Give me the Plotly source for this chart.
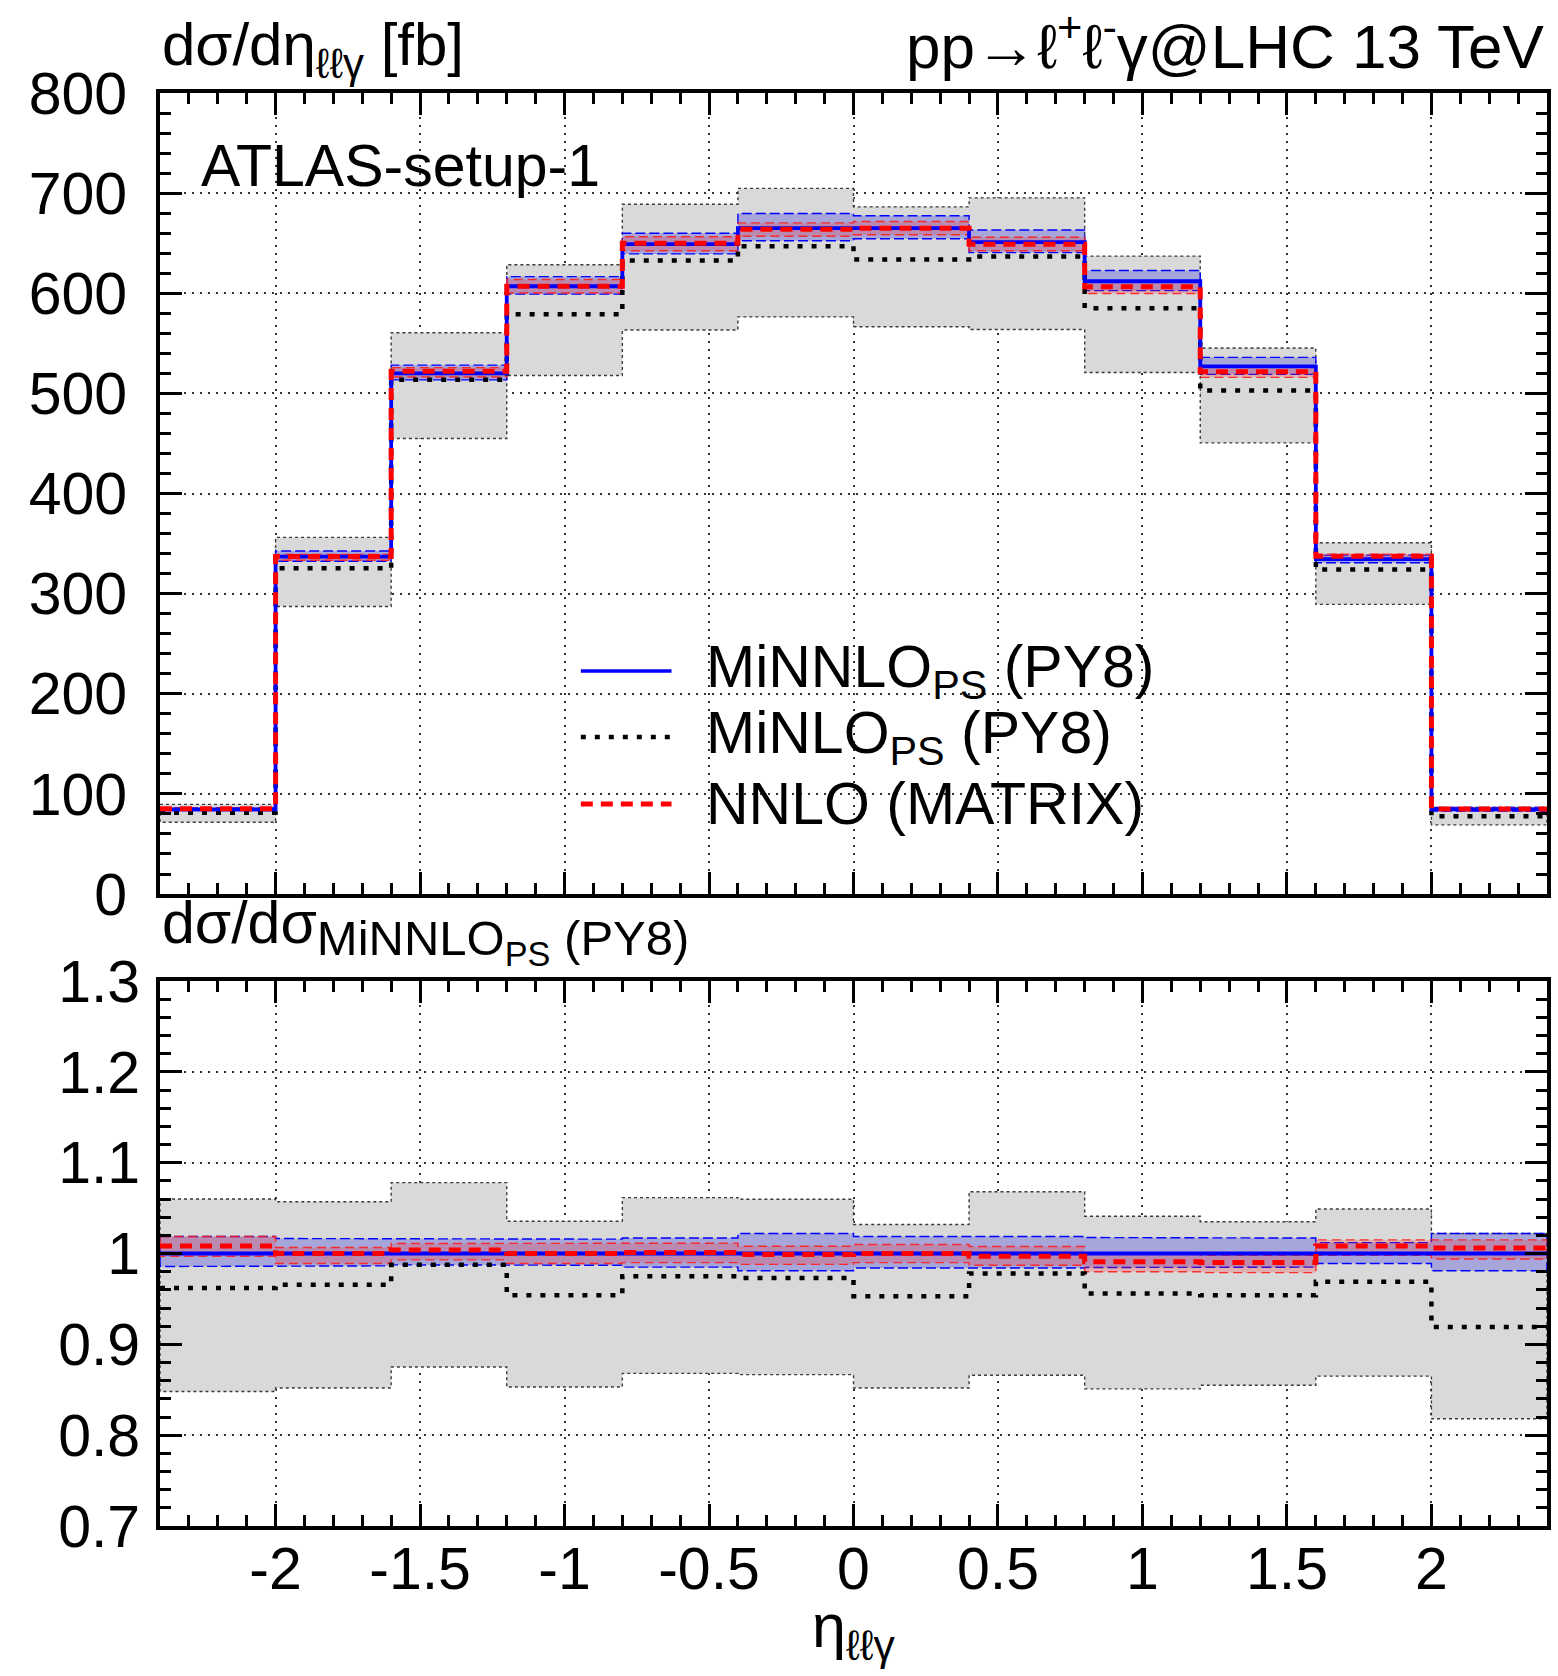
import plotly.graph_objects as go

# ---------------------------------------------------------------- data
# bin edges in eta_{ll gamma}
edges = [-2.4, -2.0, -1.6, -1.2, -0.8, -0.4, 0.0, 0.4, 0.8, 1.2, 1.6, 2.0, 2.4]

# upper panel: d sigma / d eta [fb]
minnlo    = [84.5, 337.0, 520.0, 607.0, 649.0, 665.0, 665.0, 651.0, 612.0, 527.0, 334.5, 84.5]
minnlo_hi = [86.1, 342.6, 528.2, 616.6, 660.0, 679.6, 677.4, 663.2, 622.8, 536.0, 338.5, 86.4]
minnlo_lo = [83.3, 332.4, 513.5, 599.1, 639.3, 652.4, 654.4, 640.6, 602.6, 519.0, 330.8, 82.9]

minlo     = [81.3, 325.4, 513.5, 579.0, 632.8, 647.0, 633.7, 636.7, 585.0, 502.8, 324.1, 77.7]
minlo_hi  = [89.6, 356.2, 560.6, 628.5, 688.9, 704.7, 686.3, 695.3, 637.1, 545.4, 350.9, 86.4]
minlo_lo  = [71.7, 287.1, 455.0, 517.8, 563.3, 576.4, 566.6, 563.8, 520.8, 450.6, 289.3, 69.1]

nnlo      = [85.2, 337.0, 522.0, 607.0, 650.0, 664.0, 665.0, 649.0, 606.5, 521.7, 337.3, 85.0]
nnlo_hi   = [86.1, 339.2, 525.7, 613.7, 656.4, 670.3, 671.7, 656.0, 611.4, 526.0, 339.5, 85.8]
nnlo_lo   = [84.2, 333.3, 516.4, 600.3, 642.5, 657.0, 658.4, 642.5, 599.8, 516.0, 333.8, 84.0]

# lower panel: ratio to the MiNNLO_PS central prediction
r_minnlo    = [1.0, 1.0, 1.0, 1.0, 1.0, 1.0, 1.0, 1.0, 1.0, 1.0, 1.0, 1.0]
r_minnlo_hi = [1.0187, 1.0165, 1.0158, 1.0158, 1.017, 1.022, 1.0187, 1.0187, 1.0176, 1.017, 1.012, 1.022]
r_minnlo_lo = [0.9857, 0.9864, 0.9875, 0.987, 0.985, 0.981, 0.984, 0.984, 0.9846, 0.985, 0.989, 0.981]

r_minlo     = [0.962, 0.9656, 0.9875, 0.954, 0.975, 0.973, 0.953, 0.978, 0.956, 0.954, 0.969, 0.919]
r_minlo_hi  = [1.060, 1.057, 1.078, 1.0355, 1.0615, 1.0597, 1.032, 1.068, 1.041, 1.035, 1.049, 1.022]
r_minlo_lo  = [0.848, 0.852, 0.875, 0.853, 0.868, 0.8667, 0.852, 0.866, 0.851, 0.855, 0.865, 0.818]

r_nnlo      = [1.0084, 1.0, 1.004, 1.0, 1.001, 0.999, 1.0, 0.997, 0.991, 0.990, 1.0084, 1.006]
r_nnlo_hi   = [1.0187, 1.0066, 1.011, 1.011, 1.0114, 1.008, 1.010, 1.0077, 0.999, 0.998, 1.015, 1.015]
r_nnlo_lo   = [0.997, 0.989, 0.993, 0.989, 0.990, 0.988, 0.990, 0.987, 0.980, 0.979, 0.998, 0.994]

# tick labels
x_ticks = [-2, -1.5, -1, -0.5, 0, 0.5, 1, 1.5, 2]
x_ticklabels = ["-2", "-1.5", "-1", "-0.5", "0", "0.5", "1", "1.5", "2"]
y_ticks = [0, 100, 200, 300, 400, 500, 600, 700, 800]
y_ticklabels = ["0", "100", "200", "300", "400", "500", "600", "700", "800"]
r_ticks = [0.7, 0.8, 0.9, 1.0, 1.1, 1.2, 1.3]
r_ticklabels = ["0.7", "0.8", "0.9", "1", "1.1", "1.2", "1.3"]

legend_labels = ["MiNNLO<sub>PS</sub> (PY8)", "MiNLO<sub>PS</sub> (PY8)", "NNLO (MATRIX)"]

# ---------------------------------------------------------------- style
FONT = "Liberation Sans, Arial, Helvetica, sans-serif"
BLUE = "#0000ff"
RED = "#ff0000"
GRAY_FILL = "#d9d9d9"
BLUE_FILL = "rgba(30,30,220,0.27)"
RED_FILL = "rgba(255,40,40,0.24)"
RED_DASH = "12px,8px"
BLACK_DOT = "5px,9px"


def step_xy(vals):
    """Histogram outline through the bin edges (used with line_shape='hv')."""
    return edges, list(vals) + [vals[-1]]


def band_xy(lo, hi):
    """Closed outline of a per-bin band between lo and hi."""
    xs, ys = [], []
    for i in range(len(hi)):
        xs += [edges[i], edges[i + 1]]
        ys += [hi[i], hi[i]]
    for i in reversed(range(len(lo))):
        xs += [edges[i + 1], edges[i]]
        ys += [lo[i], lo[i]]
    xs.append(xs[0])
    ys.append(ys[0])
    return xs, ys


fig = go.Figure()


def add_panel(xa, ya, c_minnlo, lo_minnlo, hi_minnlo, c_minlo, lo_minlo, hi_minlo,
              c_nnlo, lo_nnlo, hi_nnlo):
    # uncertainty bands
    for lo, hi, fill, lcol, ldash in [
        (lo_minlo, hi_minlo, GRAY_FILL, "#3a3a3a", "3px,3px"),
        (lo_minnlo, hi_minnlo, BLUE_FILL, BLUE, "10px,4px"),
        (lo_nnlo, hi_nnlo, RED_FILL, "rgba(255,30,30,0.9)", "9px,5px"),
    ]:
        bx, by = band_xy(lo, hi)
        fig.add_trace(go.Scatter(x=bx, y=by, mode="lines", fill="toself",
                                 fillcolor=fill,
                                 line=dict(color=lcol, width=1.4, dash=ldash),
                                 xaxis=xa, yaxis=ya, hoverinfo="skip",
                                 showlegend=False))
    # central predictions
    sx, sy = step_xy(c_minlo)
    fig.add_trace(go.Scatter(x=sx, y=sy, mode="lines", line_shape="hv",
                             line=dict(color="black", width=4.5, dash=BLACK_DOT),
                             xaxis=xa, yaxis=ya, showlegend=False))
    sx, sy = step_xy(c_minnlo)
    fig.add_trace(go.Scatter(x=sx, y=sy, mode="lines", line_shape="hv",
                             line=dict(color=BLUE, width=3.8),
                             xaxis=xa, yaxis=ya, showlegend=False))
    sx, sy = step_xy(c_nnlo)
    fig.add_trace(go.Scatter(x=sx, y=sy, mode="lines", line_shape="hv",
                             line=dict(color=RED, width=5, dash=RED_DASH),
                             xaxis=xa, yaxis=ya, showlegend=False))


add_panel("x", "y", minnlo, minnlo_lo, minnlo_hi, minlo, minlo_lo, minlo_hi,
          nnlo, nnlo_lo, nnlo_hi)
add_panel("x2", "y2", r_minnlo, r_minnlo_lo, r_minnlo_hi, r_minlo, r_minlo_lo,
          r_minlo_hi, r_nnlo, r_nnlo_lo, r_nnlo_hi)

# ---------------------------------------------------------------- axes
TICKFONT = dict(family=FONT, size=59, color="black")
axis_common = dict(
    showline=True, linewidth=4, linecolor="black", mirror="allticks",
    ticks="inside", ticklen=22, tickwidth=3, tickcolor="black",
    showgrid=True, gridcolor="#333333", gridwidth=1.5, griddash="2px,6px",
    zeroline=False, tickfont=TICKFONT, layer="above traces",
)

x_common = dict(axis_common, range=[-2.4, 2.4], tickmode="array",
                tickvals=x_ticks, ticktext=x_ticklabels,
                minor=dict(tickmode="linear", tick0=0, dtick=0.1, ticks="inside",
                           ticklen=11, tickwidth=3, tickcolor="black",
                           showgrid=False))

fig.update_layout(
    width=1558, height=1676,
    margin=dict(l=160, r=7, t=93, b=150),
    paper_bgcolor="white", plot_bgcolor="white",
    showlegend=False,
    font=dict(family=FONT, size=59, color="black"),
    xaxis=dict(x_common, domain=[0, 1], anchor="y", showticklabels=False),
    xaxis2=dict(x_common, domain=[0, 1], anchor="y2", showticklabels=True,
                ticklabelstandoff=-12),
    yaxis=dict(axis_common, domain=[0.441, 1.0], range=[0, 800],
               tickmode="array", tickvals=y_ticks, ticktext=y_ticklabels,
               ticklabelstandoff=17,
               minor=dict(tickmode="linear", tick0=0, dtick=20, ticks="inside",
                          ticklen=11, tickwidth=3, tickcolor="black",
                          showgrid=False)),
    yaxis2=dict(axis_common, domain=[0.0, 0.3803], range=[0.7, 1.3],
                tickmode="array", tickvals=r_ticks, ticktext=r_ticklabels,
                ticklabelstandoff=4,
                minor=dict(tickmode="linear", tick0=0.7, dtick=0.02,
                           ticks="inside", ticklen=11, tickwidth=3,
                           tickcolor="black", showgrid=False)),
)

# ---------------------------------------------------------------- texts
def text(s, x, y, size, xanchor="left", yanchor="middle"):
    fig.add_annotation(text=s, x=x, y=y, xref="paper", yref="paper",
                       xanchor=xanchor, yanchor=yanchor, showarrow=False,
                       font=dict(family=FONT, size=size, color="black"))


text("dσ/dη<sub>ℓℓγ</sub> [fb]", 0.0, 1.031, 60)
text("pp→ℓ<sup>+</sup>ℓ<sup>-</sup>γ@LHC 13 TeV", 1.0, 1.0355, 62, xanchor="right")
text("ATLAS-setup-1", 0.028, 0.949, 59)
text("dσ/dσ<sub><span style='font-size:49px'>MiNNLO<sub>PS</sub> (PY8)</span></sub>",
     0.0, 0.415, 59)
text("η<sub>ℓℓγ</sub>", 0.5, -0.073, 61, xanchor="center")

# legend
legend_rows = [0.5967, 0.5506, 0.5038]
legend_styles = [
    dict(color=BLUE, width=3.5, dash="solid"),
    dict(color="black", width=4.5, dash=BLACK_DOT),
    dict(color=RED, width=5, dash=RED_DASH),
]
for yrow, lab, st in zip(legend_rows, legend_labels, legend_styles):
    fig.add_shape(type="line", xref="paper", yref="paper",
                  x0=0.3034, x1=0.3688, y0=yrow, y1=yrow, line=st)
    text(lab, 0.392, yrow, 59)

fig.write_html("out.html")
